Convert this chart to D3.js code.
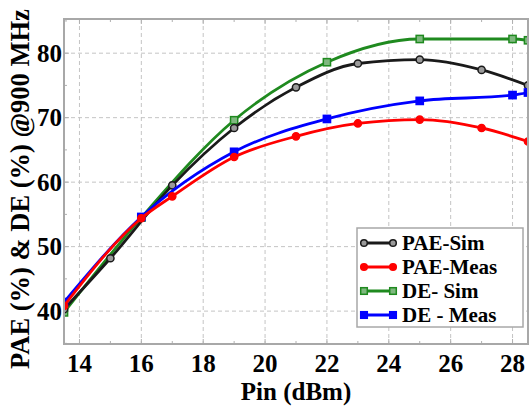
<!DOCTYPE html>
<html>
<head>
<meta charset="utf-8">
<script src="https://cdn.jsdelivr.net/npm/d3@7"></script>
<style>
  body { margin: 0; background: #fff; }
</style>
</head>
<body>
<svg id="chart" width="529" height="408"></svg>
<script>
// data
const xTicks = [14, 16, 18, 20, 22, 24, 26, 28];
const yTicks = [40, 50, 60, 70, 80];

const paeSimX = [13.5, 15, 17, 19, 21, 23, 25, 27, 28.5];
const paeSimY = [40.3, 48.2, 59.5, 68.4, 74.7, 78.4, 79.0, 77.4, 75.0];

const paeMeasX = [13.5, 16, 17, 19, 21, 23, 25, 27, 28.5];
const paeMeasY = [40.8, 54.4, 57.8, 63.9, 67.1, 69.1, 69.7, 68.4, 66.3];

const deSimX = [13.5, 16, 19, 22, 25, 28, 28.5];
const deSimY = [39.8, 54.5, 69.6, 78.6, 82.2, 82.2, 82.0];

const deMeasX = [13.5, 16, 19, 22, 25, 28, 28.5];
const deMeasY = [41.4, 54.6, 64.7, 69.8, 72.6, 73.5, 73.9];

const seriesNames = ['PAE-Sim', 'PAE-Meas', 'DE- Sim', 'DE - Meas'];

const series = [
    { name: seriesNames[0], xs: paeSimX, ys: paeSimY, color: '#1a1a1a', mark: 'circle', fill: '#9a9a9a' },
    { name: seriesNames[1], xs: paeMeasX, ys: paeMeasY, color: '#ff0000', mark: 'circle', fill: '#ff0000' },
    { name: seriesNames[2], xs: deSimX, ys: deSimY, color: '#1f8a1f', mark: 'square', fill: '#7fb87f' },
    { name: seriesNames[3], xs: deMeasX, ys: deMeasY, color: '#0000ff', mark: 'square', fill: '#0000ff' },
];

const FONT = '"Liberation Serif", "Times New Roman", Times, serif';
const pLeft = 64, pRight = 528, pTop = 19, pBottom = 344;
const svg = d3.select('#chart')
    .attr('font-family', FONT)
    .attr('font-weight', 'bold');

const x = d3.scaleLinear().domain([13.5, 28.5]).range([pLeft, pRight]);
const y = d3.scaleLinear().domain([34.9, 85.3]).range([pBottom, pTop]);

// grid
const grid = svg.append('g')
    .attr('stroke', '#c4c4c4')
    .attr('stroke-width', 1)
    .attr('stroke-dasharray', '4 3');
grid.selectAll('.vg').data(xTicks).enter().append('line')
    .attr('x1', d => x(d)).attr('x2', d => x(d))
    .attr('y1', pTop).attr('y2', pBottom);
grid.selectAll('.hg').data(yTicks).enter().append('line')
    .attr('x1', pLeft).attr('x2', pRight)
    .attr('y1', d => y(d)).attr('y2', d => y(d));

// inner ticks
const tickG = svg.append('g').attr('stroke', '#b0b0b0').attr('stroke-width', 1);
const xMinor = d3.range(14, 29, 1);
const yMinor = d3.range(35, 86, 5);
tickG.selectAll('.tb').data(xMinor).enter().append('line')
    .attr('x1', d => x(d)).attr('x2', d => x(d))
    .attr('y1', pBottom).attr('y2', d => pBottom - (d % 2 === 0 ? 5 : 3));
tickG.selectAll('.tt').data(xMinor).enter().append('line')
    .attr('x1', d => x(d)).attr('x2', d => x(d))
    .attr('y1', pTop).attr('y2', d => pTop + (d % 2 === 0 ? 5 : 3));
tickG.selectAll('.tl').data(yMinor).enter().append('line')
    .attr('x1', pLeft).attr('x2', d => pLeft + (d % 10 === 0 ? 5 : 3))
    .attr('y1', d => y(d)).attr('y2', d => y(d));

// clip
svg.append('clipPath').attr('id', 'clip')
    .append('rect').attr('x', pLeft).attr('y', pTop)
    .attr('width', pRight - pLeft).attr('height', pBottom - pTop);

const line = d3.line()
    .x(d => x(d[0]))
    .y(d => y(d[1]))
    .curve(d3.curveMonotoneX);

const plot = svg.append('g').attr('clip-path', 'url(#clip)');

function drawMarks(g, s, pts, r) {
    if (s.mark === 'circle') {
        g.selectAll('circle').data(pts).enter().append('circle')
            .attr('cx', d => d[0]).attr('cy', d => d[1]).attr('r', r)
            .attr('fill', s.fill).attr('stroke', s.color).attr('stroke-width', 1.5);
    } else {
        g.selectAll('rect').data(pts).enter().append('rect')
            .attr('x', d => d[0] - r).attr('y', d => d[1] - r)
            .attr('width', r * 2).attr('height', r * 2)
            .attr('fill', s.fill).attr('stroke', s.color).attr('stroke-width', 1.5);
    }
}

// draw order: green, black, blue, red
[2, 0, 3, 1].forEach(i => {
    const s = series[i];
    const pts = s.xs.map((v, j) => [v, s.ys[j]]);
    plot.append('path')
        .datum(pts)
        .attr('d', line)
        .attr('fill', 'none')
        .attr('stroke', s.color)
        .attr('stroke-width', 2.8);
    drawMarks(plot.append('g'), s, pts.map(p => [x(p[0]), y(p[1])]), 3.6);
});

// frame
svg.append('rect')
    .attr('x', pLeft).attr('y', pTop)
    .attr('width', pRight - pLeft).attr('height', pBottom - pTop)
    .attr('fill', 'none').attr('stroke', '#a8a8a8').attr('stroke-width', 2);

// tick labels
svg.append('g').selectAll('text').data(xTicks).enter().append('text')
    .attr('x', d => x(d)).attr('y', 372)
    .attr('text-anchor', 'middle')
    .attr('font-family', FONT)
    .style('font-size', '25px')
    .text(d => d);
svg.append('g').selectAll('text').data(yTicks).enter().append('text')
    .attr('x', 62).attr('y', d => y(d))
    .attr('dy', '0.35em')
    .attr('text-anchor', 'end')
    .attr('font-family', FONT)
    .style('font-size', '25px')
    .text(d => d);

// axis titles
svg.append('text')
    .attr('x', 296).attr('y', 400)
    .attr('text-anchor', 'middle')
    .attr('font-family', FONT)
    .style('font-size', '25px')
    .text('Pin (dBm)');
svg.append('text')
    .attr('transform', 'translate(29,189) rotate(-90)')
    .attr('text-anchor', 'middle')
    .attr('font-family', FONT)
    .style('font-size', '26.5px')
    .text('PAE (%) & DE (%) @900 MHz');

// legend
const legend = svg.append('g');
legend.append('rect')
    .attr('x', 357).attr('y', 228).attr('width', 166).attr('height', 99)
    .attr('fill', '#fff').attr('stroke', '#a8a8a8').attr('stroke-width', 1.5);
series.forEach((s, i) => {
    const ly = 243 + i * 24;
    const row = legend.append('g');
    row.append('line')
        .attr('x1', 362).attr('x2', 395).attr('y1', ly).attr('y2', ly)
        .attr('stroke', s.color).attr('stroke-width', 2.8);
    drawMarks(row, s, [[364, ly], [393, ly]], 3.3);
    row.append('text')
        .attr('x', 402).attr('y', ly).attr('dy', '0.35em')
        .attr('font-family', FONT)
        .style('font-size', '21px')
        .text(s.name);
});
</script>
</body>
</html>
